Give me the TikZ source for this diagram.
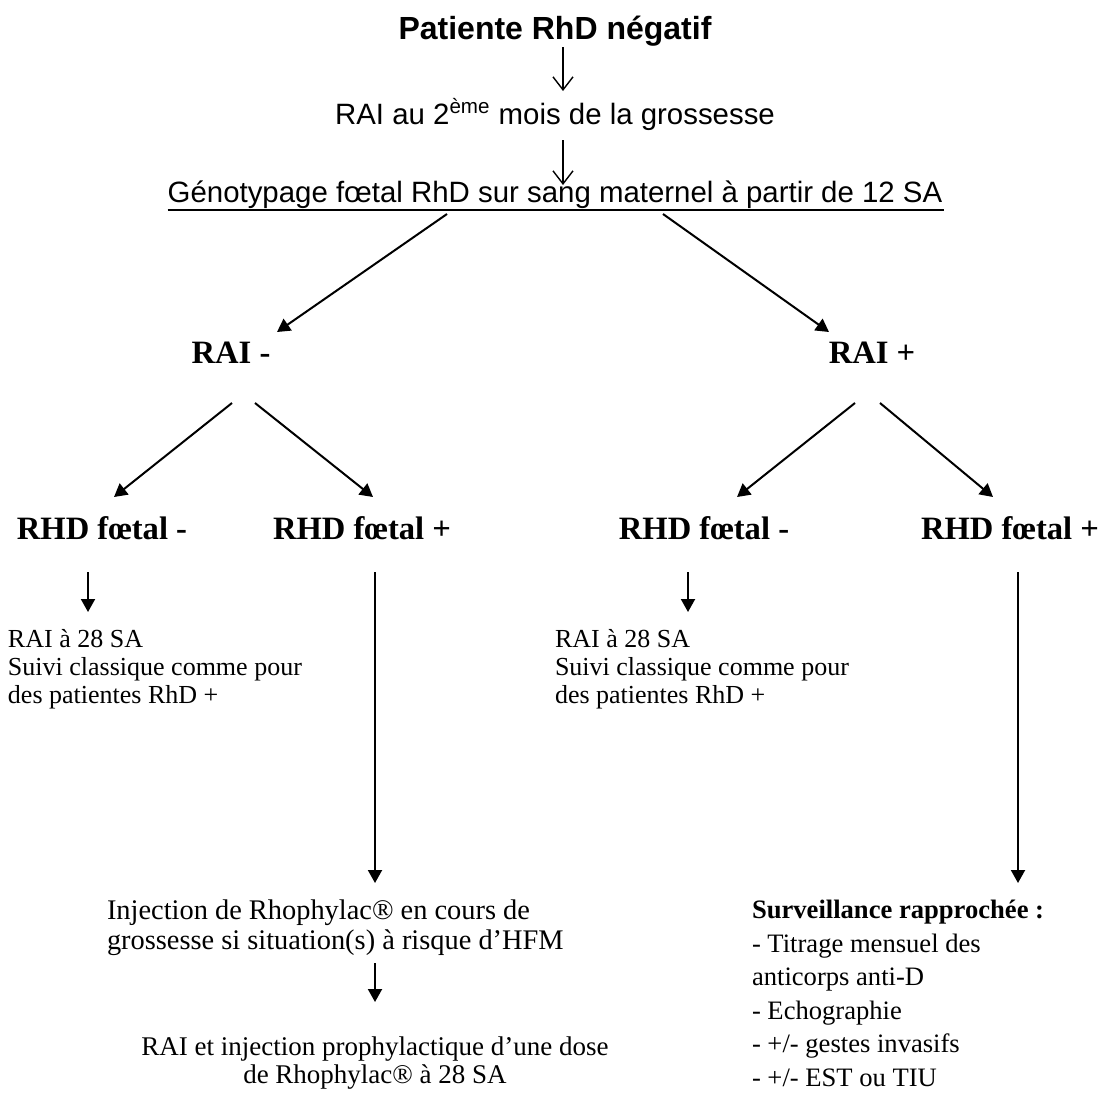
\documentclass[tikz,border=0pt]{standalone}
\usepackage{fontspec}
\setmainfont{Liberation Serif}
\newfontfamily\arialfont{Liberation Sans}
\usetikzlibrary{arrows.meta,calc}
\begin{document}
\begin{tikzpicture}[x=0.5pt,y=-0.5pt,
  every node/.style={inner sep=0pt, outer sep=0pt},
  titletxt/.style={font=\arialfont\bfseries\fontsize{16}{19}\selectfont},
  arialtxt/.style={font=\arialfont\fontsize{14.7}{18}\selectfont},
  boldtxt/.style={font=\bfseries\fontsize{16.3}{19}\selectfont},
  bodytxt/.style={font=\fontsize{13}{14.2}\selectfont},
  injtxt/.style={font=\fontsize{14.2}{14.8}\selectfont},
  dosetxt/.style={font=\fontsize{13.5}{14}\selectfont},
  survtxt/.style={font=\fontsize{13.3}{16.8}\selectfont},
  openarr/.style={line width=0.7pt, -{Straight Barb[length=6.5pt,width=10pt]}},
  fillarr/.style={line width=1pt, -{Triangle[length=6.5pt,width=7pt]}},
]
\useasboundingbox (0,0) rectangle (1108,1104);

\node[titletxt, anchor=base] (title) at (555,39) {Patiente RhD négatif};
\node[arialtxt, anchor=base] (rai2) at (555,124) {RAI au 2\textsuperscript{ème} mois de la grossesse};
\node[arialtxt, anchor=base] (geno) at (555,202) {Génotypage fœtal RhD sur sang maternel à partir de 12 SA};
\draw[line width=1.2pt] ($(geno.base west)+(0,8)$) -- ($(geno.base east)+(2,8)$);

\node[boldtxt, anchor=base] (raiM) at (231,363) {RAI -};
\node[boldtxt, anchor=base] (raiP) at (872,363) {RAI +};

\node[boldtxt, anchor=base] (fm1) at (102,539) {RHD fœtal -};
\node[boldtxt, anchor=base] (fp1) at (362,539) {RHD fœtal +};
\node[boldtxt, anchor=base] (fm2) at (704,539) {RHD fœtal -};
\node[boldtxt, anchor=base] (fp2) at (1010,539) {RHD fœtal +};

\node[bodytxt, anchor=north west, align=left] (L1) at (8,629) {RAI à 28 SA\\Suivi classique comme pour\\des patientes RhD +};
\node[bodytxt, anchor=north west, align=left] (R1) at (555,629) {RAI à 28 SA\\Suivi classique comme pour\\des patientes RhD +};

\node[injtxt, anchor=north west, align=left] (inj) at (107,900) {Injection de Rhophylac® en cours de\\grossesse si situation(s) à risque d’HFM};
\node[dosetxt, anchor=north, align=center] (rai28) at (375,1037) {RAI et injection prophylactique d’une dose\\de Rhophylac® à 28 SA};

\node[survtxt, anchor=north west, align=left] (surv) at (752,900) {\textbf{Surveillance rapprochée :}\\- Titrage mensuel des\\anticorps anti-D\\- Echographie\\- +/- gestes invasifs\\- +/- EST ou TIU};

% top arrows
\draw[openarr] ($(title.base)+(8,8)$) -- ($(rai2.base)+(8,-33)$);
\draw[openarr] ($(rai2.base)+(8,16)$) -- ($(geno.base)+(8,-17)$);

% diagonals
\draw[fillarr] ($(geno.base)+(-108,12)$) -- ($(raiM.base)+(46,-31)$);
\draw[fillarr] ($(geno.base)+(108,12)$) -- ($(raiP.base)+(-43,-31)$);
\draw[fillarr] ($(raiM.base)+(1,40)$) -- ($(fm1.base)+(12,-42)$);
\draw[fillarr] ($(raiM.base)+(24,40)$) -- ($(fp1.base)+(11,-42)$);
\draw[fillarr] ($(raiP.base)+(-17,40)$) -- ($(fm2.base)+(33,-42)$);
\draw[fillarr] ($(raiP.base)+(8,40)$) -- ($(fp2.base)+(-17,-42)$);

% verticals
\draw[fillarr] ($(fm1.base)+(-14,33)$) -- ($(L1.north west)+(80,-17)$);
\draw[fillarr] ($(fm2.base)+(-16,33)$) -- ($(R1.north west)+(133,-17)$);
\draw[fillarr] ($(fp1.base)+(13,33)$) -- ($(inj.north west)+(268,-17)$);
\draw[fillarr] ($(fp2.base)+(8,33)$) -- ($(surv.north west)+(266,-17)$);
\draw[fillarr] ($(inj.south west)+(268,8)$) -- ($(rai28.north)+(0,-35)$);
\end{tikzpicture}
\end{document}
